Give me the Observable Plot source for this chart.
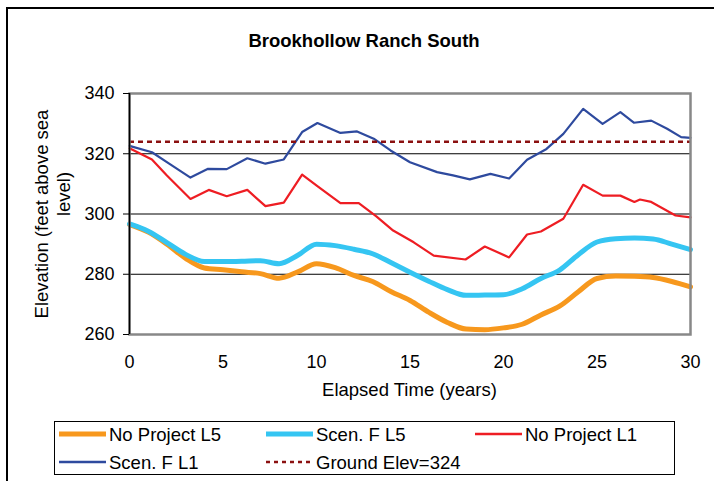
<!DOCTYPE html>
<html>
<head>
<meta charset="utf-8">
<script src="https://cdn.jsdelivr.net/npm/d3@7"></script>
<script src="https://cdn.jsdelivr.net/npm/@observablehq/plot@0.6"></script>
<style>
  html, body { margin: 0; padding: 0; background: #fff; overflow: hidden; }
  #wrap { position: relative; width: 714px; height: 481px; overflow: hidden; font-family: "Liberation Sans", Arial, sans-serif; }
  #chart { position: absolute; left: 0; top: 0; }
  #border { position: absolute; left: 6px; top: 7px; width: 800px; height: 600px; border-left: 2px solid #000; border-top: 2px solid #000; }
  #overlay { position: absolute; left: 0; top: 0; }
</style>
</head>
<body>
<div id="wrap">
  <div id="border"></div>
  <div id="chart"></div>
  <svg id="overlay" width="714" height="481" font-family="Liberation Sans, Arial, sans-serif"></svg>
</div>
<script>
// ---- data ----
const title = "Brookhollow Ranch South";
const xLabel = "Elapsed Time (years)";
const yLabelLines = ["Elevation (feet above sea", "level)"];
const xTicks = [0, 5, 10, 15, 20, 25, 30];
const yTicks = [260, 280, 300, 320, 340];
const gridValues = [280, 300, 320];
const groundElev = 324;

const seriesNames = ["No Project L5", "Scen. F L5", "No Project L1", "Scen. F L1", "Ground Elev=324"];
const seriesColors = ["#F7981D", "#35C5F2", "#EE1D23", "#2E4A9E", "#8B1010"];

// L5 series, yearly
const yearsL5 = [0,1,2,3,4,5,6,7,8,9,10,11,12,13,14,15,16,17,18,19,20,21,22,23,24,25,26,27,28,29,30];
const noProjectL5 = [296.5,294.0,290.0,285.3,282.1,281.5,280.8,280.2,278.7,280.8,283.5,282.2,279.6,277.6,274.2,271.3,267.4,264.0,261.8,261.6,262.2,263.4,266.5,269.4,274.2,278.6,279.4,279.3,278.9,277.6,275.8];
const scenFL5 = [296.7,294.3,290.5,286.6,284.2,284.2,284.3,284.5,283.5,286.3,290.0,289.5,288.3,286.8,283.8,280.7,277.7,274.9,273.0,273.1,273.2,275.2,278.6,281.4,286.5,290.7,291.8,292.0,291.7,290.0,288.2];

// L1 series
const yearsNoProjL1 = [0,1.2,2.0,3.26,4.24,5.2,6.3,7.27,8.25,9.23,10.1,11.28,12.26,13.2,14.1,15.2,16.27,17.97,19.0,20.3,21.26,22.0,23.2,24.26,25.3,26.25,27.0,27.3,27.9,29.2,30];
const noProjectL1 = [321.8,318.1,312.8,305.0,308.0,305.9,308.0,302.6,303.8,313.1,309.0,303.6,303.6,299.2,294.5,290.6,286.2,284.9,289.2,285.6,293.2,294.2,298.4,309.7,306.1,306.1,304.0,304.8,304.0,299.5,298.9];
const yearsScenFL1 = [0,1.2,2.1,3.26,4.2,5.2,6.3,7.27,8.25,9.23,10.05,11.28,12.17,13.06,13.96,15.0,16.45,17.3,18.2,19.3,20.3,21.26,22.3,23.2,24.26,25.3,26.25,26.97,27.9,28.75,29.5,30];
const scenFL1 = [322.6,320.5,316.8,312.1,315.0,314.9,318.5,316.7,318.1,327.2,330.2,326.9,327.4,325.0,321.1,317.2,313.9,312.8,311.5,313.3,311.8,318.0,321.6,326.6,334.9,329.9,333.8,330.3,331.0,328.3,325.5,325.3];

const toRows = (xs, ys) => xs.map((x, i) => ({x, y: ys[i]}));

const chart = Plot.plot({
  width: 714,
  height: 481,
  marginLeft: 129,
  marginRight: 24,
  marginTop: 93,
  marginBottom: 147,
  style: {fontFamily: "Liberation Sans, Arial, sans-serif", fontSize: "18px", color: "#000", background: "transparent", overflow: "visible"},
  x: {domain: [0, 30]},
  y: {domain: [260, 340]},
  marks: [
    Plot.gridY(gridValues, {stroke: "#000", strokeOpacity: 1, strokeWidth: 1}),
    Plot.line(toRows(yearsL5, noProjectL5), {x: "x", y: "y", stroke: seriesColors[0], strokeWidth: 5, curve: "monotone-x"}),
    Plot.line(toRows(yearsL5, scenFL5), {x: "x", y: "y", stroke: seriesColors[1], strokeWidth: 5, curve: "monotone-x"}),
    Plot.line(toRows(yearsNoProjL1, noProjectL1), {x: "x", y: "y", stroke: seriesColors[2], strokeWidth: 2.2}),
    Plot.line(toRows(yearsScenFL1, scenFL1), {x: "x", y: "y", stroke: seriesColors[3], strokeWidth: 2.2}),
    Plot.ruleY([groundElev], {stroke: seriesColors[4], strokeWidth: 2.5, strokeDasharray: "5,4"}),
    Plot.frame({stroke: "#888", strokeWidth: 2.5}),
    Plot.ruleX([0], {stroke: "#000", strokeWidth: 1.5}),
    Plot.axisY(yTicks, {tickSize: 6, tickPadding: 9, label: null, stroke: "#000"}),
    Plot.axisX(xTicks, {tickSize: 0, tickPadding: 21, label: null})
  ]
});
document.getElementById("chart").appendChild(chart);

// ---- titles and legend overlay ----
const ov = d3.select("#overlay");
ov.append("text").attr("x", 364).attr("y", 40).attr("text-anchor", "middle").attr("dominant-baseline", "central")
  .attr("font-weight", "bold").attr("font-size", 18.5).text(title);
ov.append("text").attr("x", 409.5).attr("y", 389).attr("text-anchor", "middle").attr("dominant-baseline", "central")
  .attr("font-size", 18.5).text(xLabel);
ov.append("text").attr("transform", "translate(41,214) rotate(-90)").attr("text-anchor", "middle").attr("dominant-baseline", "central")
  .attr("font-size", 18.5).text(yLabelLines[0]);
ov.append("text").attr("transform", "translate(63,194) rotate(-90)").attr("text-anchor", "middle").attr("dominant-baseline", "central")
  .attr("font-size", 18.5).text(yLabelLines[1]);

// legend
ov.append("rect").attr("x", 54.5).attr("y", 421.5).attr("width", 620).attr("height", 53).attr("fill", "#fff").attr("stroke", "#000").attr("stroke-width", 1);
const legendPos = [[59, 434], [266, 434], [475, 434], [59, 462], [266, 462]];
const legendWidths = [5, 5, 2.5, 2.5, 2.5];
seriesNames.forEach((name, i) => {
  const [lx, ly] = legendPos[i];
  ov.append("line").attr("x1", lx).attr("x2", lx + 47).attr("y1", ly).attr("y2", ly)
    .attr("stroke", seriesColors[i]).attr("stroke-width", legendWidths[i])
    .attr("stroke-dasharray", i === 4 ? "4,4" : null);
  ov.append("text").attr("x", lx + 50).attr("y", ly).attr("dominant-baseline", "central")
    .attr("font-size", 18.5).text(name);
});
</script>
</body>
</html>
